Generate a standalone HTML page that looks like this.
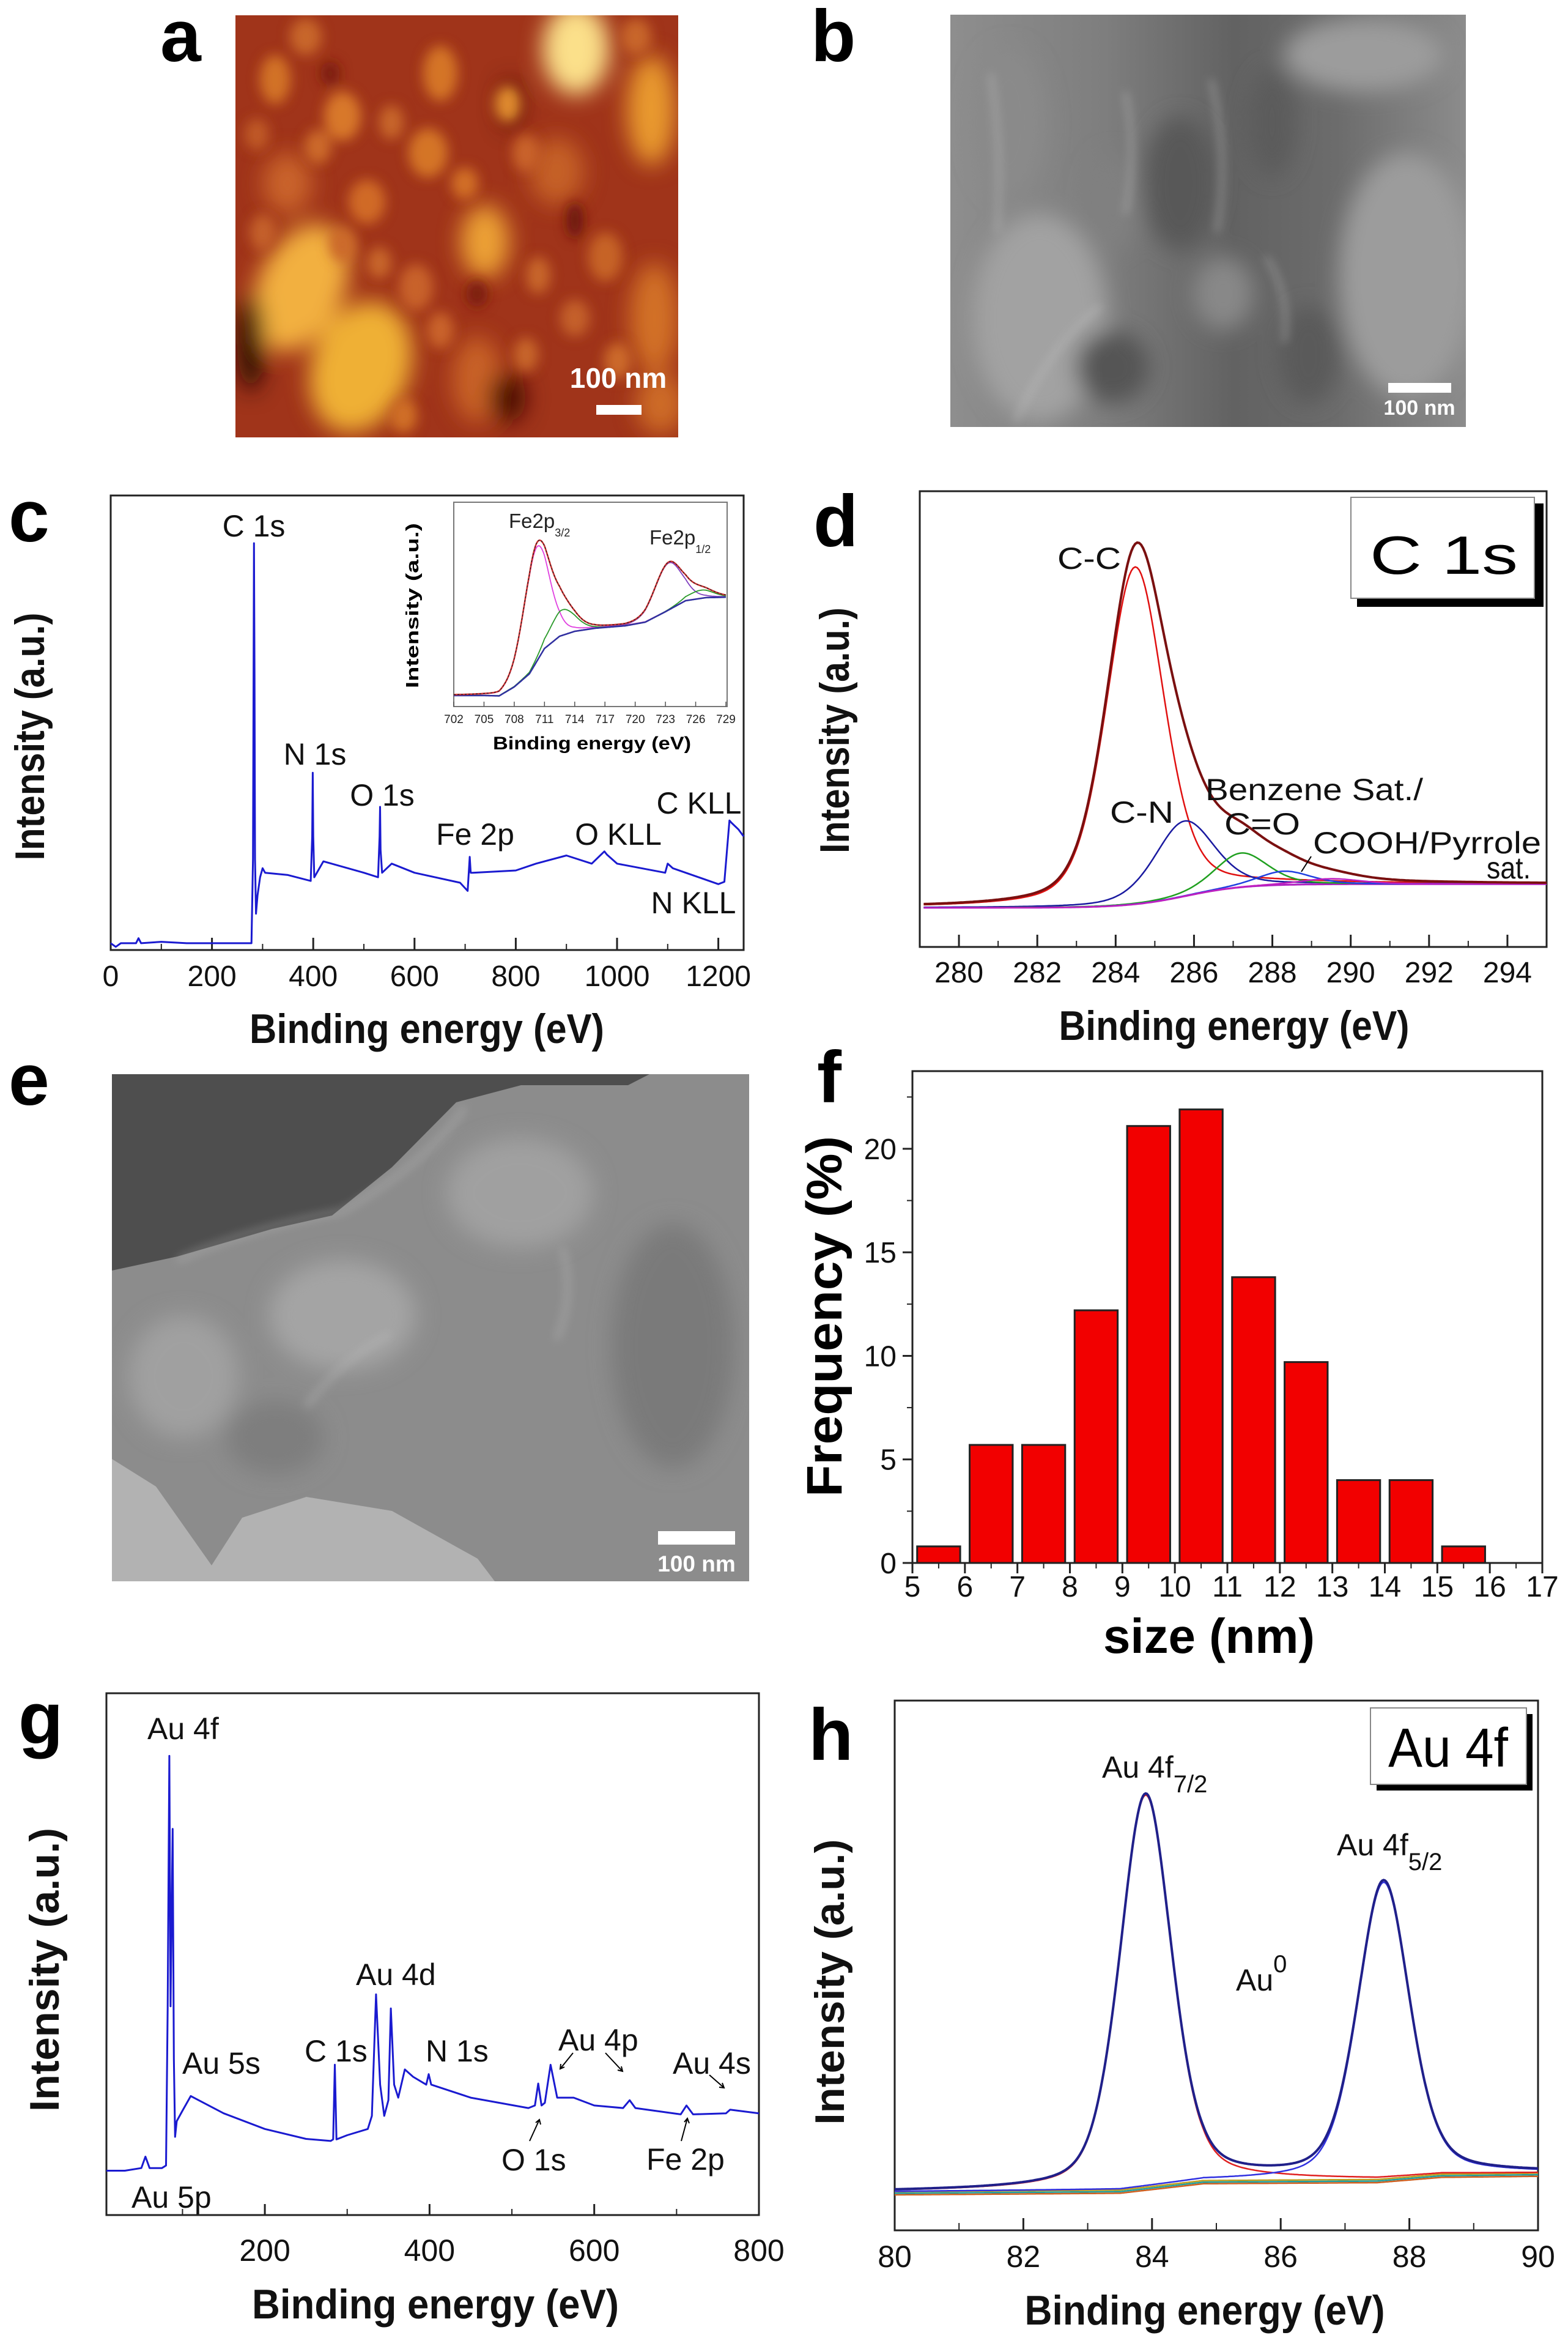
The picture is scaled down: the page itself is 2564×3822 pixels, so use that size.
<!DOCTYPE html>
<html><head><meta charset="utf-8">
<style>
html,body{margin:0;padding:0;background:#fff;}
svg{display:block;font-family:"Liberation Sans",Arial,sans-serif;}
.lbl{font-size:50px;fill:#111;}
.tick{font-size:50px;fill:#111;}
.ttl{font-size:68px;font-weight:bold;fill:#111;}
.pl{font-size:120px;font-weight:bold;fill:#000;}
</style></head>
<body>
<svg id="fig" width="2564" height="3822" viewBox="0 0 2564 3822" xmlns="http://www.w3.org/2000/svg">
<defs>
<filter id="blur18" x="-50%" y="-50%" width="200%" height="200%"><feGaussianBlur stdDeviation="18"/></filter>
<filter id="blur10" x="-50%" y="-50%" width="200%" height="200%"><feGaussianBlur stdDeviation="10"/></filter>
<filter id="blur8" x="-50%" y="-50%" width="200%" height="200%"><feGaussianBlur stdDeviation="8"/></filter>
<clipPath id="clipA"><rect x="385" y="25" width="724" height="690"/></clipPath>
<clipPath id="clipB"><rect x="1554" y="24" width="843" height="674"/></clipPath>
<clipPath id="clipE"><rect x="183" y="1756" width="1042" height="829"/></clipPath>
<linearGradient id="gB" x1="0" y1="0" x2="1" y2="0">
<stop offset="0" stop-color="#8e8e8e"/><stop offset="0.3" stop-color="#7e7e7e"/><stop offset="0.55" stop-color="#626262"/><stop offset="0.75" stop-color="#6c6c6c"/><stop offset="1" stop-color="#8c8c8c"/></linearGradient>
</defs>

<!-- panel letters -->
<text class="pl" x="262" y="100">a</text>
<text class="pl" x="1326" y="100">b</text>
<text class="pl" x="14" y="885">c</text>
<text class="pl" x="1330" y="893">d</text>
<text class="pl" x="14" y="1806">e</text>
<text class="pl" x="1336" y="1802">f</text>
<text class="pl" x="30" y="2850">g</text>
<text class="pl" x="1322" y="2877">h</text>

<!-- panel a AFM image -->
<g id="afm" clip-path="url(#clipA)">
<rect x="385" y="25" width="724" height="690" fill="#a0341a"/>
<g filter="url(#blur18)">
<ellipse cx="942" cy="80" rx="55" ry="75" fill="#fbe08a"/>
<ellipse cx="492" cy="470" rx="70" ry="110" fill="#f2b040" transform="rotate(25 492 470)"/>
<ellipse cx="590" cy="600" rx="80" ry="110" fill="#efb035" transform="rotate(20 590 600)"/>
<ellipse cx="793" cy="395" rx="40" ry="60" fill="#eba035"/>
<ellipse cx="1065" cy="180" rx="40" ry="90" fill="#e8992e"/>
<ellipse cx="470" cy="300" rx="40" ry="50" fill="#c9642a"/>
<ellipse cx="910" cy="280" rx="45" ry="55" fill="#c56026"/>
<ellipse cx="1070" cy="520" rx="40" ry="90" fill="#d27128"/>
<ellipse cx="780" cy="620" rx="40" ry="70" fill="#c86226"/>
<ellipse cx="1080" cy="660" rx="40" ry="50" fill="#cd6c28"/>
<ellipse cx="410" cy="560" rx="22" ry="80" fill="#2a0804"/>
<ellipse cx="830" cy="650" rx="30" ry="40" fill="#4a0f06"/>
<ellipse cx="835" cy="170" rx="15" ry="40" fill="#4a0f06"/>
</g>
<g filter="url(#blur10)">
<ellipse cx="560" cy="190" rx="30" ry="40" fill="#d8782a"/>
<ellipse cx="720" cy="120" rx="28" ry="45" fill="#d47428"/>
<ellipse cx="450" cy="130" rx="25" ry="40" fill="#d27228"/>
<ellipse cx="830" cy="170" rx="22" ry="30" fill="#df8a2d"/>
<ellipse cx="700" cy="250" rx="32" ry="40" fill="#d47428"/>
<ellipse cx="600" cy="330" rx="30" ry="36" fill="#d06a28"/>
<ellipse cx="990" cy="420" rx="28" ry="40" fill="#c66427"/>
<ellipse cx="680" cy="470" rx="28" ry="38" fill="#c8622a"/>
<ellipse cx="520" cy="240" rx="22" ry="28" fill="#cc6a2a"/>
<ellipse cx="640" cy="200" rx="20" ry="28" fill="#c8662a"/>
<ellipse cx="760" cy="300" rx="22" ry="26" fill="#d27028"/>
<ellipse cx="860" cy="250" rx="22" ry="30" fill="#c9642a"/>
<ellipse cx="430" cy="380" rx="22" ry="30" fill="#c4602a"/>
<ellipse cx="560" cy="400" rx="22" ry="28" fill="#cc6a2a"/>
<ellipse cx="620" cy="430" rx="20" ry="26" fill="#c8662a"/>
<ellipse cx="880" cy="450" rx="20" ry="30" fill="#c8662a"/>
<ellipse cx="940" cy="520" rx="24" ry="30" fill="#c4602a"/>
<ellipse cx="720" cy="540" rx="22" ry="30" fill="#c9642a"/>
<ellipse cx="860" cy="580" rx="20" ry="28" fill="#c8662a"/>
<ellipse cx="1010" cy="590" rx="22" ry="30" fill="#cc6a2a"/>
<ellipse cx="420" cy="220" rx="20" ry="26" fill="#c05a26"/>
<ellipse cx="1040" cy="60" rx="25" ry="30" fill="#c8662a"/>
<ellipse cx="500" cy="60" rx="26" ry="30" fill="#c8662a"/>
<ellipse cx="660" cy="680" rx="22" ry="28" fill="#d07028"/>
<ellipse cx="940" cy="360" rx="14" ry="30" fill="#6a1808"/>
<ellipse cx="780" cy="480" rx="18" ry="22" fill="#7a1a0a"/>
<ellipse cx="540" cy="120" rx="16" ry="20" fill="#7a1a0a"/>
</g>
<rect x="975" y="662" width="74" height="16" fill="#fff"/>
<text x="1011" y="634" text-anchor="middle" font-size="46" font-weight="bold" fill="#fff">100 nm</text>
</g>

<!-- panel b SEM -->
<g clip-path="url(#clipB)">
<rect x="1554" y="24" width="843" height="674" fill="url(#gB)"/>
<g filter="url(#blur18)">
<ellipse cx="1700" cy="520" rx="110" ry="170" fill="#a2a2a2"/>
<ellipse cx="2300" cy="450" rx="110" ry="200" fill="#9c9c9c"/>
<ellipse cx="2230" cy="90" rx="130" ry="60" fill="#9c9c9c"/>
<ellipse cx="1930" cy="300" rx="60" ry="110" fill="#585858"/>
<ellipse cx="1820" cy="600" rx="60" ry="60" fill="#555"/>
<ellipse cx="2000" cy="480" rx="50" ry="60" fill="#888"/>
<ellipse cx="1650" cy="200" rx="60" ry="120" fill="#8a8a8a"/>
<ellipse cx="2080" cy="200" rx="40" ry="90" fill="#5c5c5c"/>
<ellipse cx="2140" cy="580" rx="50" ry="80" fill="#5a5a5a"/>
<ellipse cx="1820" cy="330" rx="40" ry="80" fill="#808080"/>
</g>
<g stroke="#c8c8c8" stroke-width="4" fill="none" filter="url(#blur8)" opacity="0.8">
<path d="M1660 690 Q1720 560 1800 500"/>
<path d="M1840 150 Q1860 250 1840 350"/>
<path d="M1980 130 Q2010 250 1990 380"/>
<path d="M2070 420 Q2110 480 2100 560"/>
<path d="M1620 120 Q1640 250 1630 380"/>
</g>
<rect x="2270" y="626" width="103" height="16" fill="#fff"/>
<text x="2321" y="678" text-anchor="middle" font-size="34" font-weight="bold" fill="#fff">100 nm</text>
</g>

<!-- panel e SEM -->
<g clip-path="url(#clipE)">
<rect x="183" y="1756" width="1042" height="829" fill="#8c8c8c"/>
<polygon points="183,1756 1062,1756 1027,1774 852,1774 746,1802 641,1908 543,1987 445,2009 290,2054 183,2077" fill="#4e4e4e"/>
<g filter="url(#blur18)">
<ellipse cx="560" cy="2150" rx="120" ry="90" fill="#a4a4a4"/>
<ellipse cx="850" cy="1950" rx="120" ry="90" fill="#a0a0a0"/>
<ellipse cx="1100" cy="2200" rx="100" ry="200" fill="#7a7a7a"/>
<ellipse cx="300" cy="2250" rx="90" ry="100" fill="#a0a0a0"/>
<ellipse cx="450" cy="2350" rx="80" ry="60" fill="#7e7e7e"/>
</g>
<g stroke="#c4c4c4" stroke-width="4" fill="none" filter="url(#blur8)" opacity="0.8">
<path d="M290 2060 Q400 2010 560 1980 Q700 1900 760 1810"/>
<path d="M920 2040 Q940 2120 910 2190"/>
<path d="M500 2300 Q560 2220 640 2180"/>
</g>
<polygon points="183,2385 255,2430 346,2559 396,2481 501,2447 641,2470 781,2548 809,2585 183,2585" fill="#b2b2b2"/>
<rect x="1076" y="2503" width="126" height="22" fill="#fff"/>
<text x="1139" y="2569" text-anchor="middle" font-size="37" font-weight="bold" fill="#fff">100 nm</text>
</g>

<!-- panel c static -->
<g>
<rect x="181" y="810" width="1035" height="743" fill="none" stroke="#222" stroke-width="3"/>
<g id="c-ticks"></g>
<g id="c-series"></g>
<text class="ttl" x="698" y="1705" text-anchor="middle" textLength="580" lengthAdjust="spacingAndGlyphs">Binding energy (eV)</text>
<text class="ttl" transform="translate(72 1204) rotate(-90)" text-anchor="middle" textLength="405" lengthAdjust="spacingAndGlyphs" font-size="62">Intensity (a.u.)</text>
<text class="lbl" x="415" y="877" text-anchor="middle" font-size="46">C 1s</text>
<text class="lbl" x="515" y="1250" text-anchor="middle" font-size="46">N 1s</text>
<text class="lbl" x="625" y="1317" text-anchor="middle" font-size="46">O 1s</text>
<text class="lbl" x="777" y="1381" text-anchor="middle" font-size="46">Fe 2p</text>
<text class="lbl" x="1011" y="1381" text-anchor="middle" font-size="46">O KLL</text>
<text class="lbl" x="1143" y="1330" text-anchor="middle" font-size="46">C KLL</text>
<text class="lbl" x="1134" y="1493" text-anchor="middle" font-size="46">N KLL</text>
<!-- inset -->
<g>
<rect x="742" y="821" width="447" height="334" fill="#fff" stroke="#777" stroke-width="2"/>
<g id="i-ticks"></g>
<g id="i-series"></g>
<text x="968" y="1225" text-anchor="middle" font-size="30" font-weight="bold" textLength="324" lengthAdjust="spacingAndGlyphs">Binding energy (eV)</text>
<text transform="translate(684 990) rotate(-90)" text-anchor="middle" font-size="29" font-weight="bold" textLength="270" lengthAdjust="spacingAndGlyphs">Intensity (a.u.)</text>
<text x="832" y="863" font-size="33" fill="#222">Fe2p<tspan font-size="18" dy="14">3/2</tspan></text>
<text x="1062" y="890" font-size="33" fill="#222">Fe2p<tspan font-size="18" dy="14">1/2</tspan></text>
</g>
</g>

<!-- panel d static -->
<g>
<rect x="1504" y="803" width="1025" height="745" fill="none" stroke="#222" stroke-width="3"/>
<g id="d-ticks"></g>
<g id="d-series"></g>
<rect x="2219" y="823" width="305" height="169" fill="#000"/>
<rect x="2209" y="813" width="300" height="165" fill="#fff" stroke="#888" stroke-width="2"/>
<text x="2361" y="938" text-anchor="middle" font-size="88" textLength="242" lengthAdjust="spacingAndGlyphs">C 1s</text>
<text class="lbl" x="1729" y="930" font-size="46" textLength="104" lengthAdjust="spacingAndGlyphs">C-C</text>
<text class="lbl" x="1815" y="1345" font-size="46" textLength="104" lengthAdjust="spacingAndGlyphs">C-N</text>
<text class="lbl" x="1971" y="1308" font-size="46" textLength="356" lengthAdjust="spacingAndGlyphs">Benzene Sat./</text>
<text class="lbl" x="2002" y="1364" font-size="46" textLength="124" lengthAdjust="spacingAndGlyphs">C=O</text>
<text class="lbl" x="2147" y="1395" font-size="46" textLength="373" lengthAdjust="spacingAndGlyphs">COOH/Pyrrole</text>
<text class="lbl" x="2431" y="1436" font-size="46" textLength="72" lengthAdjust="spacingAndGlyphs">sat.</text>
<line x1="2144" y1="1400" x2="2128" y2="1425" stroke="#000" stroke-width="2"/>
<text class="ttl" x="2018" y="1700" text-anchor="middle" textLength="573" lengthAdjust="spacingAndGlyphs">Binding energy (eV)</text>
<text class="ttl" transform="translate(1388 1194) rotate(-90)" text-anchor="middle" font-size="62" textLength="402" lengthAdjust="spacingAndGlyphs">Intensity (a.u.)</text>
</g>

<!-- panel f static -->
<g>
<g id="f-series"></g>
<rect x="1492" y="1751" width="1030" height="804" fill="none" stroke="#222" stroke-width="3"/>
<g id="f-ticks"></g>
<text x="1977" y="2702" text-anchor="middle" font-size="80" font-weight="bold" textLength="346" lengthAdjust="spacingAndGlyphs">size (nm)</text>
<text transform="translate(1376 2152) rotate(-90)" text-anchor="middle" font-size="82" font-weight="bold" textLength="590" lengthAdjust="spacingAndGlyphs">Frequency (%)</text>
</g>

<!-- panel g static -->
<g>
<rect x="174" y="2768" width="1067" height="853" fill="none" stroke="#222" stroke-width="3"/>
<g id="g-ticks"></g>
<g id="g-series"></g>
<text class="lbl" x="241" y="2843">Au 4f</text>
<text class="lbl" x="298" y="3390">Au 5s</text>
<text class="lbl" x="498" y="3370">C 1s</text>
<text class="lbl" x="582" y="3245">Au 4d</text>
<text class="lbl" x="696" y="3370">N 1s</text>
<text class="lbl" x="913" y="3352">Au 4p</text>
<text class="lbl" x="1100" y="3390">Au 4s</text>
<text class="lbl" x="820" y="3548">O 1s</text>
<text class="lbl" x="1057" y="3547">Fe 2p</text>
<text class="lbl" x="215" y="3609">Au 5p</text>
<g stroke="#000" stroke-width="2" fill="none">
<path d="M866 3500 L882 3465 M876 3470 L882 3465 L884 3473"/>
<path d="M937 3356 L916 3382 M917 3374 L916 3382 L923 3379"/>
<path d="M990 3356 L1018 3386 M1010 3384 L1018 3386 L1016 3378"/>
<path d="M1114 3500 L1124 3463 M1119 3469 L1124 3463 L1127 3471"/>
<path d="M1160 3392 L1184 3413 M1176 3412 L1184 3413 L1181 3405"/>
</g>
<text class="ttl" x="712" y="3790" text-anchor="middle" font-size="66" textLength="600" lengthAdjust="spacingAndGlyphs">Binding energy (eV)</text>
<text class="ttl" transform="translate(96 3220) rotate(-90)" text-anchor="middle" font-size="62" textLength="464" lengthAdjust="spacingAndGlyphs">Intensity (a.u.)</text>
</g>

<!-- panel h static -->
<g>
<rect x="1463" y="2780" width="1052" height="866" fill="none" stroke="#222" stroke-width="3"/>
<g id="h-ticks"></g>
<g id="h-series"></g>
<rect x="2251" y="2802" width="255" height="125" fill="#000"/>
<rect x="2241" y="2792" width="255" height="125" fill="#fff" stroke="#888" stroke-width="2"/>
<text x="2368" y="2888" text-anchor="middle" font-size="90" textLength="196" lengthAdjust="spacingAndGlyphs">Au 4f</text>
<text class="lbl" x="1802" y="2906" font-size="64">Au 4f<tspan font-size="40" dy="24">7/2</tspan></text>
<text class="lbl" x="2186" y="3033" font-size="64">Au 4f<tspan font-size="40" dy="24">5/2</tspan></text>
<text class="lbl" x="2021" y="3254" font-size="64">Au<tspan font-size="40" dy="-30">0</tspan></text>
<text class="ttl" x="1970" y="3800" text-anchor="middle" textLength="589" lengthAdjust="spacingAndGlyphs">Binding energy (eV)</text>
<text class="ttl" transform="translate(1380 3240) rotate(-90)" text-anchor="middle" font-size="62" textLength="467" lengthAdjust="spacingAndGlyphs">Intensity (a.u.)</text>
</g>
</svg>

<script>
// ---------- data ----------
const cEnergy = [0,10,20,50,55,60,100,150,200,250,278,281,283,284,285,287,290,295,300,305,350,395,398,399,400,402,420,500,528,531,532,533,536,555,600,690,705,709,711,715,800,840,900,950,975,980,1000,1095,1100,1110,1200,1212,1222,1226,1240,1250];
const cIntensity = [1.5,0.7,1.5,1.5,2.6,1.5,1.8,1.5,1.5,1.5,1.5,20,89.5,60,20,8,12,16,18,17,16.5,15.2,25,39,25,16,19.5,17,16,25,31.5,22,17,19,17,14.8,13,20.5,17,17,17.5,19,20.8,19,21.7,21,19,17,19,18,14.5,15,28.5,28,26.5,25];
const cTicks = [0,200,400,600,800,1000,1200];
const cMinor = [100,300,500,700,900,1100];
const iBgE = [702,705,706.5,708,709.5,711,712.5,714,716,719,721,723,725,727,729];
const iBgV = [5.4,5.4,5.2,9.6,16,28.4,34.4,36.8,38.3,39.5,41.3,46.4,51.8,53.3,53.5];
const iPeakCenters = [710.2,712.8,723.3,726.5];
const iPeakHeights = [56,12.5,23,4];
const iPeakWidths = [3.0,3.0,3.2,3.0];
const iPeakColors = ["#e040e0","#2a9a2a","#8040c0","#2a9a2a"];
const iTicks = [702,705,708,711,714,717,720,723,726,729];
const dCenters = [284.5,285.75,287.2,288.3,289.5];
const dHeights = [74,16.5,7.5,3,1.2];
const dWidths = [1.75,1.8,1.6,1.6,1.8];
const dNames = ["C-C","C-N","C=O","COOH","pyrrole-sat"];
const dColors = ["#e01010","#1a1aa0","#20a020","#2040e0","#c020c0"];
const dBgLow = 8.6, dBgHigh = 13.8, dBgMid = 285.8;
const dTicks = [280,282,284,286,288,290,292,294];
const fBins = [5,6,7,8,9,10,11,12,13,14,15];
const fFreq = [0.8,5.7,5.7,12.2,21.1,21.9,13.8,9.7,4.0,4.0,0.8];
const fXTicks = [5,6,7,8,9,10,11,12,13,14,15,16,17];
const fYTicks = [0,5,10,15,20];
const gEnergy = [7.6,30,50,55,60,75,80,82,84,85.5,87,88,89.5,91,93,100,110,150,200,250,280,283,285,287,300,325,330,335,340,345,350,353,357,362,370,380,396,399,402,450,520,528,532,536,540,547,555,575,600,635,643,650,705,712,720,760,765,800];
const gIntensity = [8.5,8.5,9,11.2,9,9,9.5,40,88,40,60,74,30,15,18,20,22.8,19.5,16.5,14.6,14.2,14.5,28.8,14.5,15.3,16.5,19,42.3,25,19,22,39.6,25,22.5,27.9,26.5,25,27,25,22.5,20.5,21,25.2,21,21.5,28.8,22.5,22.5,21,20.5,22,20.5,19.3,21,19.3,19.5,20.2,19.5];
const gTicks = [200,400,600,800];
const gMinor = [100,300,500,700];
const hCenters = [83.9,87.6];
const hHeights = [74,56];
const hWidths = [0.95,0.95];
const hBgE = [80,83.5,84.8,87.5,88.5,90];
const hBgV = [7.3,7.6,9.4,9.6,10.6,10.8];
const hTicks = [80,82,84,86,88,90];
const hMinor = [81,83,85,87,89];

// ---------- helpers ----------
const NS = "http://www.w3.org/2000/svg";
function lin(d0,d1,r0,r1){return v=>r0+(v-d0)/(d1-d0)*(r1-r0);}
function mk(parent,tag,attrs){const el=document.createElementNS(NS,tag);for(const k in attrs)el.setAttribute(k,attrs[k]);parent.appendChild(el);return el;}
function pv(x,c,h,w,m){const t=(x-c)/(w/2);return h*(m/(1+t*t)+(1-m)*Math.exp(-Math.LN2*t*t));}
function interp(xs,ys,x){if(x<=xs[0])return ys[0];for(let i=1;i<xs.length;i++){if(x<=xs[i]){const f=(x-xs[i-1])/(xs[i]-xs[i-1]);return ys[i-1]+f*(ys[i]-ys[i-1]);}}return ys[ys.length-1];}
function pathFrom(pts){return pts.map((p,i)=>(i?"L":"M")+p[0].toFixed(1)+" "+p[1].toFixed(1)).join(" ");}
function range(a,b,s){const r=[];for(let v=a;v<=b+1e-9;v+=s)r.push(v);return r;}

// ---------- panel c ----------
const xC=lin(0,1250,181,1216), yC=lin(0,100,1553,810);
const cT=document.getElementById("c-ticks"), cS=document.getElementById("c-series");
cTicks.forEach(v=>{
  const t=mk(cT,"line",{x1:xC(v),x2:xC(v),y1:1553,y2:1533,stroke:"#222","stroke-width":3});
  
  
  const l=mk(cT,"text",{x:xC(v),y:1612,"text-anchor":"middle","font-size":48,fill:"#111"});
  l.textContent=v;
  
  
});
cMinor.forEach(v=>{
  const t=mk(cT,"line",{x1:xC(v),x2:xC(v),y1:1553,y2:1543,stroke:"#222","stroke-width":2});
  
  
});
const cLine=mk(cS,"path",{d:pathFrom(cEnergy.map((e,i)=>[xC(e),yC(cIntensity[i])])),fill:"none",stroke:"#1a1ad0","stroke-width":3,"stroke-linejoin":"round"});



// ---------- inset ----------
const xI=lin(702,729,742,1187), yI=lin(0,100,1155,821);
const iT=document.getElementById("i-ticks"), iS=document.getElementById("i-series");
iTicks.forEach(v=>{
  const t=mk(iT,"line",{x1:xI(v),x2:xI(v),y1:1155,y2:1147,stroke:"#555","stroke-width":1.5});
  
  
  const l=mk(iT,"text",{x:xI(v),y:1182,"text-anchor":"middle","font-size":19,fill:"#222"});
  l.textContent=v;
  
  
});
const iE=range(702,729,0.1);
const iBg=e=>interp(iBgE,iBgV,e);
iPeakCenters.forEach((c,k)=>{
  const p=mk(iS,"path",{d:pathFrom(iE.map(e=>[xI(e),yI(iBg(e)+pv(e,c,iPeakHeights[k],iPeakWidths[k],0.2))])),fill:"none",stroke:iPeakColors[k],"stroke-width":1.8});
  
  
});
const ibgl=mk(iS,"path",{d:pathFrom(iE.map(e=>[xI(e),yI(iBg(e))])),fill:"none",stroke:"#3030a0","stroke-width":2.5});


const iEnv=e=>iBg(e)+iPeakCenters.reduce((s,c,k)=>s+pv(e,c,iPeakHeights[k],iPeakWidths[k],0.2),0);
const ienv=mk(iS,"path",{d:pathFrom(iE.map(e=>[xI(e),yI(iEnv(e))])),fill:"none",stroke:"#d03030","stroke-width":2.5});


const idat=mk(iS,"path",{d:pathFrom(iE.map(e=>[xI(e),yI(iEnv(e))])),fill:"none",stroke:"#222","stroke-width":1.2,"stroke-dasharray":"3 3"});



// ---------- panel d ----------
const xD=lin(279,295,1504,2529), yD=lin(0,100,1548,803);
const dT=document.getElementById("d-ticks"), dS=document.getElementById("d-series");
range(280,294,1).forEach(v=>{
  const major=dTicks.includes(v);
  const t=mk(dT,"line",{x1:xD(v),x2:xD(v),y1:1548,y2:major?1528:1538,stroke:"#222","stroke-width":major?3:2});
  
  
});
dTicks.forEach(v=>{
  const l=mk(dT,"text",{x:xD(v),y:1606,"text-anchor":"middle","font-size":48,fill:"#111"});
  l.textContent=v;
  
  
});
const dE=range(279.1,295,0.05);
const dBg=e=>dBgLow+(dBgHigh-dBgLow)/(1+Math.exp(-(e-dBgMid)/0.75));
const dbgl=mk(dS,"path",{d:pathFrom(dE.map(e=>[xD(e),yD(dBg(e))])),fill:"none",stroke:"#b020c0","stroke-width":3});


dCenters.forEach((c,k)=>{
  const p=mk(dS,"path",{d:pathFrom(dE.map(e=>[xD(e),yD(dBg(e)+pv(e,c,dHeights[k],dWidths[k],0.35))])),fill:"none",stroke:dColors[k],"stroke-width":2.5});
  
  
});
const dEnv=e=>dBg(e)+dCenters.reduce((s,c,k)=>s+pv(e,c,dHeights[k],dWidths[k],0.35),0);
const denv=mk(dS,"path",{d:pathFrom(dE.map(e=>[xD(e),yD(dEnv(e))])),fill:"none",stroke:"#7a1010","stroke-width":4});



// ---------- panel f ----------
const xF=lin(5,17,1492,2522), yF=lin(0,23.75,2555,1751);
const fT=document.getElementById("f-ticks"), fS=document.getElementById("f-series");
fBins.forEach((b,i)=>{
  const r=mk(fS,"rect",{x:xF(b+0.09),y:yF(fFreq[i]),width:xF(b+0.91)-xF(b+0.09),height:yF(0)-yF(fFreq[i]),fill:"#f20000",stroke:"#222","stroke-width":3});
  
  
});
fXTicks.forEach(v=>{
  const t=mk(fT,"line",{x1:xF(v),x2:xF(v),y1:2555,y2:2572,stroke:"#222","stroke-width":3});
  
  
  const l=mk(fT,"text",{x:xF(v),y:2610,"text-anchor":"middle","font-size":48,fill:"#111"});
  l.textContent=v;
  
  
  if(v<17){
    const m=mk(fT,"line",{x1:xF(v+0.5),x2:xF(v+0.5),y1:2555,y2:2564,stroke:"#222","stroke-width":2});
    
    
  }
});
fYTicks.forEach(v=>{
  const t=mk(fT,"line",{x1:1492,x2:1476,y1:yF(v),y2:yF(v),stroke:"#222","stroke-width":3});
  
  
  const l=mk(fT,"text",{x:1466,y:yF(v)+17,"text-anchor":"end","font-size":48,fill:"#111"});
  l.textContent=v;
  
  
  const m=mk(fT,"line",{x1:1492,x2:1483,y1:yF(v+2.5),y2:yF(v+2.5),stroke:"#222","stroke-width":2});
  
  
});

// ---------- panel g ----------
const xG=lin(7.6,800,174,1241), yG=lin(0,100,3621,2768);
const gT=document.getElementById("g-ticks"), gS=document.getElementById("g-series");
gTicks.forEach(v=>{
  const t=mk(gT,"line",{x1:xG(v),x2:xG(v),y1:3621,y2:3603,stroke:"#222","stroke-width":3});
  
  
  const l=mk(gT,"text",{x:xG(v),y:3696,"text-anchor":"middle","font-size":50,fill:"#111"});
  l.textContent=v;
  
  
});
gMinor.forEach(v=>{
  const t=mk(gT,"line",{x1:xG(v),x2:xG(v),y1:3621,y2:3611,stroke:"#222","stroke-width":2});
  
  
});
const gLine=mk(gS,"path",{d:pathFrom(gEnergy.map((e,i)=>[xG(e),yG(gIntensity[i])])),fill:"none",stroke:"#1a1ad0","stroke-width":3,"stroke-linejoin":"round"});



// ---------- panel h ----------
const xH=lin(80,90,1463,2515), yH=lin(0,100,3646,2780);
const hT=document.getElementById("h-ticks"), hS=document.getElementById("h-series");
hTicks.forEach(v=>{
  const t=mk(hT,"line",{x1:xH(v),x2:xH(v),y1:3646,y2:3626,stroke:"#222","stroke-width":3});
  
  
  const l=mk(hT,"text",{x:xH(v),y:3706,"text-anchor":"middle","font-size":50,fill:"#111"});
  l.textContent=v;
  
  
});
hMinor.forEach(v=>{
  const t=mk(hT,"line",{x1:xH(v),x2:xH(v),y1:3646,y2:3634,stroke:"#222","stroke-width":2});
  
  
});
const hE=range(80,90,0.02);
const hBg=e=>interp(hBgE,hBgV,e);
const bgCols=["#c0a020","#20a0a0","#d06020"];
bgCols.forEach((col,k)=>{
  const p=mk(hS,"path",{d:pathFrom(hE.map(e=>[xH(e),yH(hBg(e)-0.3*k)])),fill:"none",stroke:col,"stroke-width":2.5});
  
  
});
hCenters.forEach((c,k)=>{
  const p=mk(hS,"path",{d:pathFrom(hE.map(e=>[xH(e),yH(hBg(e)+pv(e,c,hHeights[k],hWidths[k],0.35))])),fill:"none",stroke:k?"#3030e0":"#e02020","stroke-width":2.5});
  
  
});
const hEnv=e=>hBg(e)+hCenters.reduce((s,c,k)=>s+pv(e,c,hHeights[k],hWidths[k],0.35),0);
const henv=mk(hS,"path",{d:pathFrom(hE.map(e=>[xH(e),yH(hEnv(e))])),fill:"none",stroke:"#20208a","stroke-width":4});


</script>
</body></html>
